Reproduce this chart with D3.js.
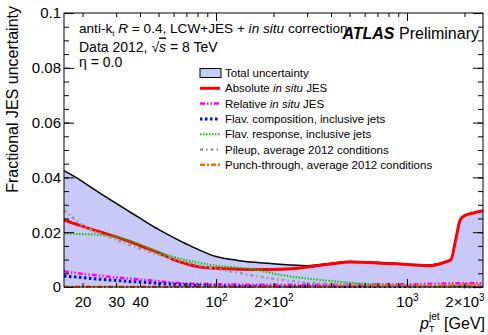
<!DOCTYPE html>
<html>
<head>
<meta charset="utf-8">
<script src="https://cdn.jsdelivr.net/npm/d3@7"></script>
<style>
  body { margin: 0; background: #fff; }
  svg { display: block; font-family: "Liberation Sans", Arial, Helvetica, sans-serif; }
</style>
</head>
<body>
<div id="chart"></div>
<script>
// pT grid (GeV) shared by all curves
const ptBins = [16, 18, 20, 22, 25, 30, 35, 40, 50, 60, 70, 80, 100, 130, 160, 200, 250, 300, 400, 500, 700, 1000, 1300, 1600, 1700, 1800, 1900, 2000, 2200, 2500];

const totalUnc = [0.0425, 0.0405, 0.0385, 0.0365, 0.0340, 0.0305, 0.0276, 0.0251, 0.0210, 0.0180, 0.0157, 0.0138, 0.0111, 0.0097, 0.0090, 0.0085, 0.0080, 0.0078, 0.0087, 0.0093, 0.0090, 0.0084, 0.0080, 0.0094, 0.0101, 0.0175, 0.0246, 0.0261, 0.0270, 0.0279];
const absInsitu = [0.0245, 0.0232, 0.0222, 0.0212, 0.0200, 0.0183, 0.0167, 0.0151, 0.0125, 0.0100, 0.0085, 0.0075, 0.0068, 0.0065, 0.0064, 0.0064, 0.0067, 0.0073, 0.0084, 0.0091, 0.0088, 0.0082, 0.0078, 0.0092, 0.0100, 0.0174, 0.0245, 0.0260, 0.0269, 0.0278];
const relInsitu = [0.0057, 0.0052, 0.0048, 0.0045, 0.0041, 0.0035, 0.0031, 0.0027, 0.0021, 0.0016, 0.0013, 0.0012, 0.0010, 0.0009, 0.0008, 0.0008, 0.0008, 0.0008, 0.0008, 0.0008, 0.0009, 0.0010, 0.0011, 0.0013, 0.0013, 0.0014, 0.0014, 0.0014, 0.0014, 0.0014];
const flavComp = [0.0040, 0.0037, 0.0034, 0.0031, 0.0028, 0.0024, 0.0020, 0.0018, 0.0013, 0.0010, 0.0008, 0.0006, 0.0004, 0.0003, 0.0003, 0.0002, 0.0002, 0.0002, 0.0002, 0.0002, 0.0002, 0.0002, 0.0002, 0.0002, 0.0002, 0.0002, 0.0002, 0.0001, 0.0001, 0.0001];
const flavResp = [0.0195, 0.0194, 0.0193, 0.0192, 0.0190, 0.0183, 0.0170, 0.0156, 0.0128, 0.0110, 0.0098, 0.0090, 0.0078, 0.0071, 0.0064, 0.0049, 0.0038, 0.0031, 0.0022, 0.0016, 0.0009, 0.0003, 0.0002, 0.0001, 0.0001, 0.0001, 0.0001, 0.0001, 0.0001, 0.0001];
const pileup = [0.0280, 0.0250, 0.0225, 0.0210, 0.0193, 0.0172, 0.0155, 0.0140, 0.0118, 0.0103, 0.0091, 0.0080, 0.0066, 0.0052, 0.0041, 0.0030, 0.0022, 0.0016, 0.0011, 0.0008, 0.0005, 0.0004, 0.0003, 0.0003, 0.0003, 0.0003, 0.0003, 0.0003, 0.0003, 0.0003];
const punchThrough = [0.0001, 0.0001, 0.0001, 0.0001, 0.0001, 0.0001, 0.0001, 0.0001, 0.0001, 0.0001, 0.0001, 0.0001, 0.0001, 0.0001, 0.0001, 0.0001, 0.0001, 0.0001, 0.0002, 0.0003, 0.0004, 0.0005, 0.0005, 0.0006, 0.0006, 0.0006, 0.0007, 0.0007, 0.0007, 0.0007];

// axis ticks
const yMajor = [0, 0.02, 0.04, 0.06, 0.08, 0.1];
const yMinor = d3.range(0, 0.1001, 0.005);
const xMajor = [100, 1000];
const xMinor = [20, 30, 40, 50, 60, 70, 80, 90, 200, 300, 400, 500, 600, 700, 800, 900, 2000];
const xLabels = [20, 30, 40, 100, 200, 1000, 2000];
const xLabelText = { 20: ['20'], 30: ['30'], 40: ['40'], 100: ['10', '2'], 200: ['2\u00d710', '2'], 1000: ['10', '3'], 2000: ['2\u00d710', '3'] };

const WIDTH = 488, HEIGHT = 335;
const M = { left: 64, right: 483, top: 13, bottom: 287 };

const svg = d3.select('#chart').append('svg')
  .attr('width', WIDTH).attr('height', HEIGHT);

const x = d3.scaleLog().domain([16, 2500]).range([M.left, M.right]);
const y = d3.scaleLinear().domain([0, 0.1]).range([M.bottom, M.top]);

const pts = (vals) => ptBins.map((p, i) => [p, vals[i]]);

// filled total band
svg.append('path')
  .datum(pts(totalUnc))
  .attr('fill', '#c9c9f7')
  .attr('d', d3.area().x(d => x(d[0])).y0(y(0)).y1(d => y(d[1])).curve(d3.curveMonotoneX));

const line = d3.line().x(d => x(d[0])).y(d => y(d[1])).curve(d3.curveMonotoneX);

const series = [
  { vals: totalUnc, color: '#000', width: 1.5, dash: null },
  { vals: absInsitu, color: '#ff0000', width: 3, dash: null },
  { vals: relInsitu, color: '#ff00ff', width: 2.5, dash: '5,2,1.5,2,1.5,2' },
  { vals: flavComp, color: '#0000ff', width: 3, dash: '2.5,2.5' },
  { vals: flavResp, color: '#00cc00', width: 2, dash: '1.5,1.5' },
  { vals: pileup, color: '#999999', width: 2.5, dash: '3,3,1.5,3' },
  { vals: punchThrough, color: '#ff6600', width: 2.5, dash: '5,2,2,2' },
];

series.forEach(s => {
  svg.append('path')
    .datum(pts(s.vals))
    .attr('fill', 'none')
    .attr('stroke', s.color)
    .attr('stroke-width', s.width)
    .attr('stroke-dasharray', s.dash)
    .attr('d', line);
});

// axes (ticks pointing inward, ROOT style)
function addAxis(axis, tx, ty) {
  const g = svg.append('g').attr('transform', `translate(${tx},${ty})`).call(axis);
  g.select('.domain').remove();
  g.selectAll('line').attr('stroke', '#000');
  return g;
}

const yLab = addAxis(d3.axisLeft(y).tickValues(yMajor).tickSizeInner(-10).tickSizeOuter(0).tickPadding(3)
  .tickFormat(d => d === 0 ? '0' : String(+d.toFixed(2))), M.left, 0);
yLab.attr('font-family', null).attr('font-size', 15);
yLab.selectAll('text').attr('fill', '#000');
addAxis(d3.axisLeft(y).tickValues(yMinor).tickSizeInner(-5).tickSizeOuter(0).tickFormat(''), M.left, 0);
addAxis(d3.axisRight(y).tickValues(yMajor).tickSizeInner(-10).tickSizeOuter(0).tickFormat(''), M.right, 0);
addAxis(d3.axisRight(y).tickValues(yMinor).tickSizeInner(-5).tickSizeOuter(0).tickFormat(''), M.right, 0);

addAxis(d3.axisBottom(x).tickValues(xMajor).tickSizeInner(-8).tickSizeOuter(0).tickFormat(''), 0, M.bottom);
addAxis(d3.axisBottom(x).tickValues(xMinor).tickSizeInner(-4).tickSizeOuter(0).tickFormat(''), 0, M.bottom);
addAxis(d3.axisTop(x).tickValues(xMajor).tickSizeInner(-8).tickSizeOuter(0).tickFormat(''), 0, M.top);
addAxis(d3.axisTop(x).tickValues(xMinor).tickSizeInner(-4).tickSizeOuter(0).tickFormat(''), 0, M.top);

// x labels with superscripts
const xLab = addAxis(d3.axisBottom(x).tickValues(xLabels).tickSize(0).tickPadding(9.5).tickFormat(''), 0, M.bottom);
xLab.attr('font-family', null).attr('font-size', 15);
xLab.selectAll('text').each(function (d) {
  const t = d3.select(this).attr('fill', '#000');
  const parts = xLabelText[d];
  t.append('tspan').text(parts[0]);
  if (parts[1]) t.append('tspan').attr('dy', -6).attr('font-size', 10).text(parts[1]);
});

// frame
svg.append('rect')
  .attr('x', M.left).attr('y', M.top)
  .attr('width', M.right - M.left).attr('height', M.bottom - M.top)
  .attr('fill', 'none').attr('stroke', '#000').attr('stroke-width', 1);

// axis titles
svg.append('text')
  .attr('transform', 'translate(18,6) rotate(-90)')
  .attr('text-anchor', 'end')
  .attr('font-size', 16)
  .text('Fractional JES uncertainty');

svg.append('text').attr('x', 420).attr('y', 329).attr('font-size', 16).attr('font-style', 'italic').text('p');
svg.append('text').attr('x', 429).attr('y', 332).attr('font-size', 9).text('T');
svg.append('text').attr('x', 429).attr('y', 320).attr('font-size', 10).text('jet');
svg.append('text').attr('x', 485).attr('y', 329).attr('font-size', 16).attr('text-anchor', 'end').text('[GeV]');

// header text
const h1 = svg.append('text').attr('x', 79).attr('y', 32.5).attr('font-size', 13.6);
h1.append('tspan').text('anti-k');
h1.append('tspan').attr('font-size', 8).attr('dy', 3).text('t');
h1.append('tspan').attr('dy', -3).text(' ');
h1.append('tspan').attr('font-style', 'italic').text('R');
h1.append('tspan').text(' = 0.4, LCW+JES + ');
h1.append('tspan').attr('font-style', 'italic').text('in situ');
h1.append('tspan').text(' correction');

const h2 = svg.append('text').attr('x', 79).attr('y', 51.5).attr('font-size', 14);
h2.append('tspan').text('Data 2012, \u221a');
h2.append('tspan').attr('font-style', 'italic').attr('text-decoration', 'overline').text('s');
h2.append('tspan').text(' = 8 TeV');

svg.append('text').attr('x', 79).attr('y', 66.5).attr('font-size', 14).text('\u03b7 = 0.0');

const atlas = svg.append('text').attr('x', 479).attr('y', 39).attr('font-size', 16).attr('text-anchor', 'end');
atlas.append('tspan').attr('font-weight', 'bold').attr('font-style', 'italic').text('ATLAS');
atlas.append('tspan').text(' Preliminary');

// legend
const legendItems = [
  { parts: [['Total uncertainty', false]], box: true },
  { parts: [['Absolute ', false], ['in situ', true], [' JES', false]], s: series[1] },
  { parts: [['Relative ', false], ['in situ', true], [' JES', false]], s: series[2] },
  { parts: [['Flav. composition, inclusive jets', false]], s: series[3] },
  { parts: [['Flav. response, inclusive jets', false]], s: series[4] },
  { parts: [['Pileup, average 2012 conditions', false]], s: series[5] },
  { parts: [['Punch-through, average 2012 conditions', false]], s: series[6] },
];

const lg = svg.append('g');
legendItems.forEach((item, i) => {
  const cy = 73 + i * 15.3;
  if (item.box) {
    lg.append('rect').attr('x', 200).attr('y', cy - 4.5).attr('width', 21).attr('height', 9)
      .attr('fill', '#c9c9f7').attr('stroke', '#000').attr('stroke-width', 1);
  } else {
    lg.append('line').attr('x1', 200).attr('x2', 220).attr('y1', cy).attr('y2', cy)
      .attr('stroke', item.s.color).attr('stroke-width', item.s.width)
      .attr('stroke-dasharray', item.s.dash);
  }
  const t = lg.append('text').attr('x', 225).attr('y', cy + 4).attr('font-size', 11.5);
  item.parts.forEach(p => t.append('tspan').attr('font-style', p[1] ? 'italic' : null).text(p[0]));
});
</script>
</body>
</html>
